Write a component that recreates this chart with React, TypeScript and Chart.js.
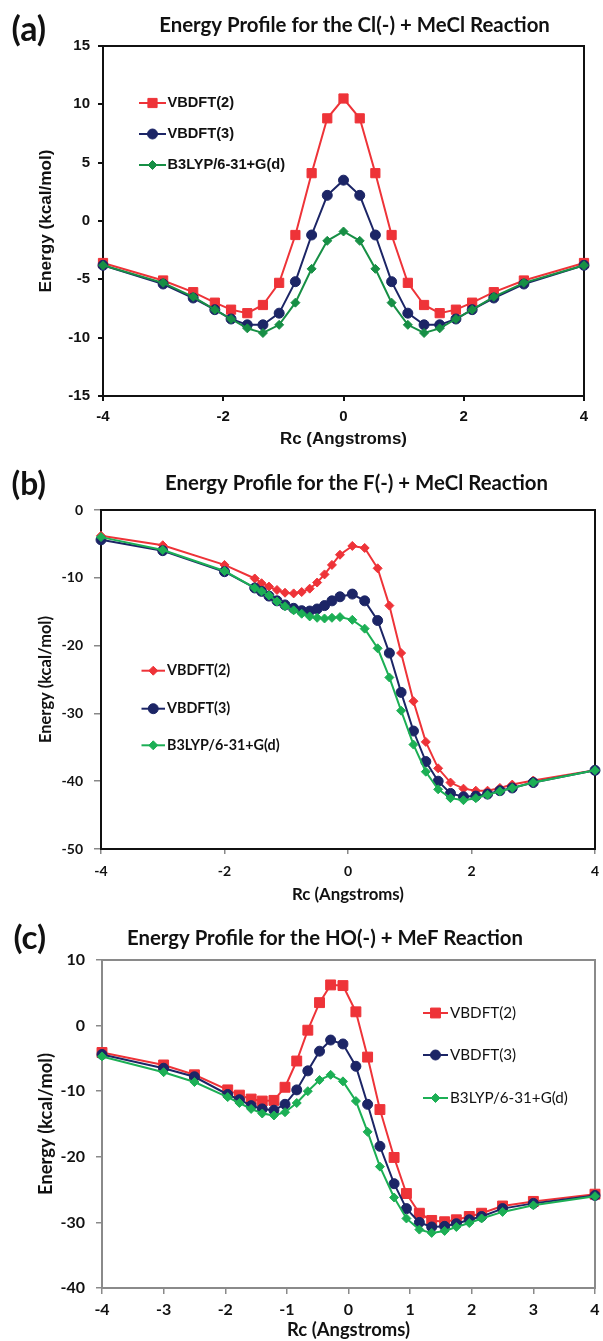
import React, { useEffect, useRef } from 'react';
import { Chart, registerables } from 'chart.js';

Chart.register(...registerables);

const PAGE_W = 603;
const PAGE_H = 1341;

const seriesNames = ['VBDFT(2)', 'VBDFT(3)', 'B3LYP/6-31+G(d)'];
const xAxisTitle = 'Rc (Angstroms)';
const yAxisTitle = 'Energy (kcal/mol)';

// ---------------- Panel (a) ----------------
const aLabel = '(a)';
const aTitle = 'Energy Profile for the Cl(-) + MeCl Reaction';
const aRc = [-4, -3, -2.5, -2.14, -1.87, -1.6, -1.34, -1.07, -0.8, -0.53, -0.27, 0, 0.27, 0.53, 0.8, 1.07, 1.34, 1.6, 1.87, 2.14, 2.5, 3, 4];
const aVBDFT2 = [-3.6, -5.1, -6.1, -7.0, -7.6, -7.9, -7.2, -5.3, -1.2, 4.1, 8.8, 10.5, 8.8, 4.1, -1.2, -5.3, -7.2, -7.9, -7.6, -7.0, -6.1, -5.1, -3.6];
const aVBDFT3 = [-3.8, -5.4, -6.6, -7.6, -8.4, -8.9, -8.9, -7.9, -5.2, -1.2, 2.2, 3.5, 2.2, -1.2, -5.2, -7.9, -8.9, -8.9, -8.4, -7.6, -6.6, -5.4, -3.8];
const aB3LYP = [-3.8, -5.3, -6.5, -7.6, -8.4, -9.2, -9.6, -8.9, -7.0, -4.1, -1.7, -0.9, -1.7, -4.1, -7.0, -8.9, -9.6, -9.2, -8.4, -7.6, -6.5, -5.3, -3.8];
const aXTicks = [-4, -2, 0, 2, 4];
const aYTicks = [-15, -10, -5, 0, 5, 10, 15];

// ---------------- Panel (b) ----------------
const bLabel = '(b)';
const bTitle = 'Energy Profile for the F(-) + MeCl Reaction';
const bRc = [-4, -3, -2, -1.51, -1.4, -1.28, -1.15, -1.02, -0.88, -0.75, -0.62, -0.5, -0.38, -0.26, -0.13, 0.07, 0.27, 0.48, 0.67, 0.86, 1.06, 1.26, 1.46, 1.66, 1.87, 2.07, 2.26, 2.46, 2.66, 3.0, 4.0];
const bVBDFT2 = [-3.8, -5.2, -8.1, -10.1, -10.8, -11.3, -11.8, -12.2, -12.3, -12.1, -11.6, -10.7, -9.5, -8.1, -6.6, -5.3, -5.6, -8.6, -14.1, -21.1, -28.2, -34.2, -38.1, -40.2, -41.1, -41.4, -41.4, -41.0, -40.5, -39.9, -38.4];
const bVBDFT3 = [-4.4, -6.0, -9.1, -11.5, -12.0, -12.7, -13.4, -14.0, -14.5, -14.85, -14.9, -14.6, -14.1, -13.4, -12.8, -12.4, -13.4, -16.3, -21.1, -26.9, -32.6, -37.1, -40.0, -41.8, -42.3, -42.2, -41.9, -41.4, -41.0, -40.2, -38.4];
const bB3LYP = [-4.0, -5.9, -9.0, -11.5, -12.0, -12.6, -13.5, -14.2, -14.8, -15.3, -15.7, -15.9, -16.0, -15.9, -15.8, -16.2, -17.5, -20.4, -24.7, -29.6, -34.6, -38.6, -41.2, -42.5, -42.8, -42.5, -42.0, -41.5, -41.0, -40.2, -38.4];
const bXTicks = [-4, -2, 0, 2, 4];
const bYTicks = [-50, -40, -30, -20, -10, 0];

// ---------------- Panel (c) ----------------
const cLabel = '(c)';
const cTitle = 'Energy Profile for the HO(-) + MeF Reaction';
const cRc = [-4, -3, -2.5, -1.96, -1.77, -1.58, -1.4, -1.21, -1.03, -0.84, -0.66, -0.47, -0.29, -0.09, 0.12, 0.31, 0.51, 0.74, 0.94, 1.15, 1.35, 1.56, 1.75, 1.96, 2.16, 2.5, 3.0, 4.0];
const cVBDFT2 = [-4.1, -6.0, -7.5, -9.8, -10.6, -11.2, -11.5, -11.4, -9.4, -5.4, -0.7, 3.5, 6.2, 6.1, 2.1, -4.8, -12.8, -20.1, -25.6, -28.6, -29.7, -29.9, -29.6, -29.1, -28.6, -27.5, -26.8, -25.7];
const cVBDFT3 = [-4.4, -6.5, -7.8, -10.5, -11.3, -12.2, -12.7, -12.9, -12.0, -9.8, -6.9, -3.9, -2.2, -2.8, -6.2, -12.0, -18.4, -24.1, -27.9, -30.0, -30.7, -30.6, -30.2, -29.6, -29.1, -27.9, -27.1, -25.9];
const cB3LYP = [-4.7, -7.1, -8.6, -10.9, -11.8, -12.7, -13.4, -13.7, -13.2, -11.8, -10.0, -8.3, -7.5, -8.5, -11.5, -16.2, -21.5, -26.2, -29.4, -31.1, -31.6, -31.3, -30.7, -30.1, -29.4, -28.4, -27.4, -26.0];
const cXTicks = [-4, -3, -2, -1, 0, 1, 2, 3, 4];
const cYTicks = [-40, -30, -20, -10, 0, 10];

const ARIAL = '"Liberation Sans", Arial, sans-serif';
const LATO = 'Lato, "Open Sans", sans-serif';
const RED = '#EE3338';
const NAVY = '#1C2566';
const GREEN_A = '#178F45';
const GREEN_BC = '#1CAF55';
const TEXT = '#111111';

type SeriesStyle = { color: string; ps: 'rect' | 'circle' | 'rectRot'; r: number; lw: number };

type PanelCfg = {
  label: string; labelBox: { cx: number; cy: number; w: number };
  title: string; titleBox: { cx: number; cy: number; w: number };
  canvasTop: number; canvasH: number;
  area: { l: number; r: number; t: number; b: number };
  rc: number[]; series: number[][];
  xTicks: number[]; yTicks: number[];
  tickFamily: string; tickSize: number;
  xTick: { tl: number; pad: number }; yTick: { tl: number; pad: number };
  tickMarkColor: string; tickMarkWidth: number; frameColor: string;
  axisFamily: string; yTitle: { cx: number; len: number }; xTitle: { cy: number; len: number };
  legend: { x1: number; x2: number; tx: number; rows: number[]; family: string; weight: string; fitText: string; fitW: number };
  styles: SeriesStyle[];
};

let mctx: CanvasRenderingContext2D | null = null;
function fitSize(text: string, weight: string, family: string, target: number): number {
  if (!mctx) mctx = document.createElement('canvas').getContext('2d');
  mctx!.font = `${weight} 100px ${family}`;
  const w = mctx!.measureText(text).width;
  return (100 * target) / w;
}

function drawMarker(ctx: CanvasRenderingContext2D, ps: string, x: number, y: number, r: number, color: string) {
  ctx.beginPath();
  if (ps === 'rect') {
    const s = r * Math.SQRT1_2;
    ctx.rect(x - s, y - s, 2 * s, 2 * s);
  } else if (ps === 'circle') {
    ctx.arc(x, y, r, 0, Math.PI * 2);
  } else {
    ctx.moveTo(x - r, y);
    ctx.lineTo(x, y - r);
    ctx.lineTo(x + r, y);
    ctx.lineTo(x, y + r);
    ctx.closePath();
  }
  ctx.fillStyle = color;
  ctx.fill();
  ctx.lineWidth = 1;
  ctx.strokeStyle = color;
  ctx.stroke();
}

function buildConfig(cfg: PanelCfg): any {
  const ySize = fitSize(yAxisTitle, 'bold', cfg.axisFamily, cfg.yTitle.len);
  const xSize = fitSize(xAxisTitle, 'bold', cfg.axisFamily, cfg.xTitle.len);
  const titleSize = fitSize(cfg.title, 'bold', LATO, cfg.titleBox.w);
  const labelSize = fitSize(cfg.label, 'bold', LATO, cfg.labelBox.w);
  const legendSize = fitSize(cfg.legend.fitText, cfg.legend.weight, cfg.legend.family, cfg.legend.fitW);

  const padLeft = cfg.yTitle.cx - ySize / 2;
  const yW = cfg.area.l - padLeft;
  const xH = cfg.xTitle.cy + xSize / 2 - cfg.area.b;
  const padTop = cfg.area.t - cfg.canvasTop;
  const padRight = PAGE_W - cfg.area.r;
  const padBottom = cfg.canvasH - (cfg.area.b - cfg.canvasTop) - xH;
  const T = cfg.canvasTop;

  const tickFont = { family: cfg.tickFamily, size: cfg.tickSize, weight: 'bold', lineHeight: 1 };

  const decor = {
    id: 'panelDecor',
    beforeDatasetsDraw(chart: any) {
      const { ctx, chartArea: ca } = chart;
      ctx.save();
      ctx.strokeStyle = cfg.frameColor;
      ctx.lineWidth = 2;
      ctx.strokeRect(ca.left, ca.top, ca.right - ca.left, ca.bottom - ca.top);
      ctx.restore();
    },
    afterDraw(chart: any) {
      const ctx: CanvasRenderingContext2D = chart.ctx;
      ctx.save();
      ctx.fillStyle = TEXT;
      ctx.textBaseline = 'middle';
      ctx.textAlign = 'center';
      ctx.font = `bold ${labelSize}px ${LATO}`;
      ctx.fillText(cfg.label, cfg.labelBox.cx, cfg.labelBox.cy - T);
      ctx.font = `bold ${titleSize}px ${LATO}`;
      ctx.fillText(cfg.title, cfg.titleBox.cx, cfg.titleBox.cy - T);
      // legend
      const lg = cfg.legend;
      cfg.styles.forEach((st, i) => {
        const y = lg.rows[i] - T;
        ctx.beginPath();
        ctx.moveTo(lg.x1, y);
        ctx.lineTo(lg.x2, y);
        ctx.strokeStyle = st.color;
        ctx.lineWidth = st.lw;
        ctx.stroke();
        drawMarker(ctx, st.ps, (lg.x1 + lg.x2) / 2, y, st.r, st.color);
        ctx.fillStyle = TEXT;
        ctx.textAlign = 'left';
        ctx.textBaseline = 'middle';
        ctx.font = `${lg.weight} ${legendSize}px ${lg.family}`;
        ctx.fillText(seriesNames[i], lg.tx, y);
      });
      ctx.restore();
    },
  };

  return {
    type: 'line',
    data: {
      datasets: cfg.series.map((ys, i) => {
        const st = cfg.styles[i];
        return {
          label: seriesNames[i],
          data: cfg.rc.map((x, j) => ({ x, y: ys[j] })),
          borderColor: st.color,
          backgroundColor: st.color,
          borderWidth: st.lw,
          pointStyle: st.ps,
          pointRadius: st.r,
          pointHoverRadius: st.r,
          pointBackgroundColor: st.color,
          pointBorderColor: st.color,
          pointBorderWidth: 1,
          tension: 0,
          clip: false,
          order: 3 - i,
        };
      }),
    },
    options: {
      responsive: false,
      maintainAspectRatio: false,
      animation: false,
      devicePixelRatio: 1,
      events: [],
      layout: { padding: { left: padLeft, right: padRight, top: padTop, bottom: padBottom } },
      plugins: {
        legend: { display: false },
        tooltip: { enabled: false },
        title: { display: false },
      },
      scales: {
        x: {
          type: 'linear',
          min: cfg.xTicks[0],
          max: cfg.xTicks[cfg.xTicks.length - 1],
          afterBuildTicks: (s: any) => { s.ticks = cfg.xTicks.map((value) => ({ value })); },
          afterFit: (s: any) => { s.height = xH; s.paddingLeft = 0; s.paddingRight = 0; s.paddingTop = 0; s.paddingBottom = 0; },
          ticks: { font: tickFont, color: TEXT, padding: cfg.xTick.pad, maxRotation: 0, autoSkip: false, callback: (v: any) => `${v}` },
          grid: { display: true, drawOnChartArea: false, drawTicks: true, tickLength: cfg.xTick.tl, color: cfg.tickMarkColor, lineWidth: cfg.tickMarkWidth },
          border: { display: false },
          title: { display: true, text: xAxisTitle, color: TEXT, font: { family: cfg.axisFamily, size: xSize, weight: 'bold', lineHeight: 1 }, padding: { top: 0, bottom: 0 } },
        },
        y: {
          type: 'linear',
          min: cfg.yTicks[0],
          max: cfg.yTicks[cfg.yTicks.length - 1],
          afterBuildTicks: (s: any) => { s.ticks = cfg.yTicks.map((value) => ({ value })); },
          afterFit: (s: any) => { s.width = yW; s.paddingLeft = 0; s.paddingRight = 0; s.paddingTop = 0; s.paddingBottom = 0; },
          ticks: { font: tickFont, color: TEXT, padding: cfg.yTick.pad, autoSkip: false, callback: (v: any) => `${v}` },
          grid: { display: true, drawOnChartArea: false, drawTicks: true, tickLength: cfg.yTick.tl, color: cfg.tickMarkColor, lineWidth: cfg.tickMarkWidth },
          border: { display: false },
          title: { display: true, text: yAxisTitle, color: TEXT, font: { family: cfg.axisFamily, size: ySize, weight: 'bold', lineHeight: 1 }, padding: { top: 0, bottom: 0 } },
        },
      },
    },
    plugins: [decor],
  };
}

const panelA: PanelCfg = {
  label: aLabel, labelBox: { cx: 28.8, cy: 30, w: 34.7 },
  title: aTitle, titleBox: { cx: 354.5, cy: 25.7, w: 391 },
  canvasTop: 0, canvasH: 455,
  area: { l: 103, r: 584, t: 46, b: 396 },
  rc: aRc, series: [aVBDFT2, aVBDFT3, aB3LYP],
  xTicks: aXTicks, yTicks: aYTicks,
  tickFamily: ARIAL, tickSize: 15,
  xTick: { tl: 5, pad: 8 }, yTick: { tl: 5, pad: 8 },
  tickMarkColor: '#111111', tickMarkWidth: 2, frameColor: '#111111',
  axisFamily: ARIAL, yTitle: { cx: 46, len: 143 }, xTitle: { cy: 439, len: 127 },
  legend: { x1: 139, x2: 166, tx: 167.5, rows: [103, 134, 165], family: ARIAL, weight: 'bold', fitText: 'B3LYP/6-31+G(d)', fitW: 117.7 },
  styles: [
    { color: RED, ps: 'rect', r: 6.5, lw: 2 },
    { color: NAVY, ps: 'circle', r: 5, lw: 2 },
    { color: GREEN_A, ps: 'rectRot', r: 4.5, lw: 2 },
  ],
};

const panelB: PanelCfg = {
  label: bLabel, labelBox: { cx: 28.8, cy: 485, w: 34.5 },
  title: bTitle, titleBox: { cx: 356.5, cy: 483.3, w: 383 },
  canvasTop: 455, canvasH: 450,
  area: { l: 101, r: 595, t: 510, b: 849 },
  rc: bRc, series: [bVBDFT2, bVBDFT3, bB3LYP],
  xTicks: bXTicks, yTicks: bYTicks,
  tickFamily: LATO, tickSize: 14,
  xTick: { tl: 5, pad: 10 }, yTick: { tl: 7, pad: 11 },
  tickMarkColor: '#888888', tickMarkWidth: 1.5, frameColor: '#111111',
  axisFamily: LATO, yTitle: { cx: 46, len: 127 }, xTitle: { cy: 895, len: 112 },
  legend: { x1: 141.5, x2: 165, tx: 167, rows: [670.7, 708.7, 745.3], family: LATO, weight: 'bold', fitText: 'B3LYP/6-31+G(d)', fitW: 112.7 },
  styles: [
    { color: RED, ps: 'rectRot', r: 4.5, lw: 2 },
    { color: NAVY, ps: 'circle', r: 5, lw: 2 },
    { color: GREEN_BC, ps: 'rectRot', r: 4.5, lw: 2 },
  ],
};

const panelC: PanelCfg = {
  label: cLabel, labelBox: { cx: 29.8, cy: 938, w: 32.7 },
  title: cTitle, titleBox: { cx: 325, cy: 938, w: 396 },
  canvasTop: 905, canvasH: 436,
  area: { l: 102, r: 601, t: 960, b: 1288 },
  rc: cRc, series: [cVBDFT2, cVBDFT3, cB3LYP],
  xTicks: cXTicks, yTicks: cYTicks,
  tickFamily: LATO, tickSize: 16,
  xTick: { tl: 6, pad: 8 }, yTick: { tl: 6, pad: 11 },
  tickMarkColor: '#8A8A8A', tickMarkWidth: 1.5, frameColor: '#8A8A8A',
  axisFamily: LATO, yTitle: { cx: 46, len: 142 }, xTitle: { cy: 1330, len: 123 },
  legend: { x1: 423, x2: 448, tx: 450, rows: [1013, 1055, 1098], family: LATO, weight: 'normal', fitText: 'B3LYP/6-31+G(d)', fitW: 118 },
  styles: [
    { color: RED, ps: 'rect', r: 7, lw: 2 },
    { color: NAVY, ps: 'circle', r: 5, lw: 2 },
    { color: GREEN_BC, ps: 'rectRot', r: 4.5, lw: 2 },
  ],
};

function Panel({ cfg }: { cfg: PanelCfg }) {
  const ref = useRef<HTMLCanvasElement>(null);
  useEffect(() => {
    const canvas = ref.current;
    if (!canvas) return;
    const chart = new Chart(canvas, buildConfig(cfg));
    return () => chart.destroy();
  }, [cfg]);
  return (
    <canvas
      ref={ref}
      width={PAGE_W}
      height={cfg.canvasH}
      style={{ position: 'absolute', left: 0, top: cfg.canvasTop, width: PAGE_W, height: cfg.canvasH, display: 'block' }}
    />
  );
}

export default function App() {
  return (
    <div style={{ position: 'absolute', left: 0, top: 0, width: PAGE_W, height: PAGE_H, background: '#ffffff', overflow: 'hidden' }}>
      <Panel cfg={panelA} />
      <Panel cfg={panelB} />
      <Panel cfg={panelC} />
    </div>
  );
}
